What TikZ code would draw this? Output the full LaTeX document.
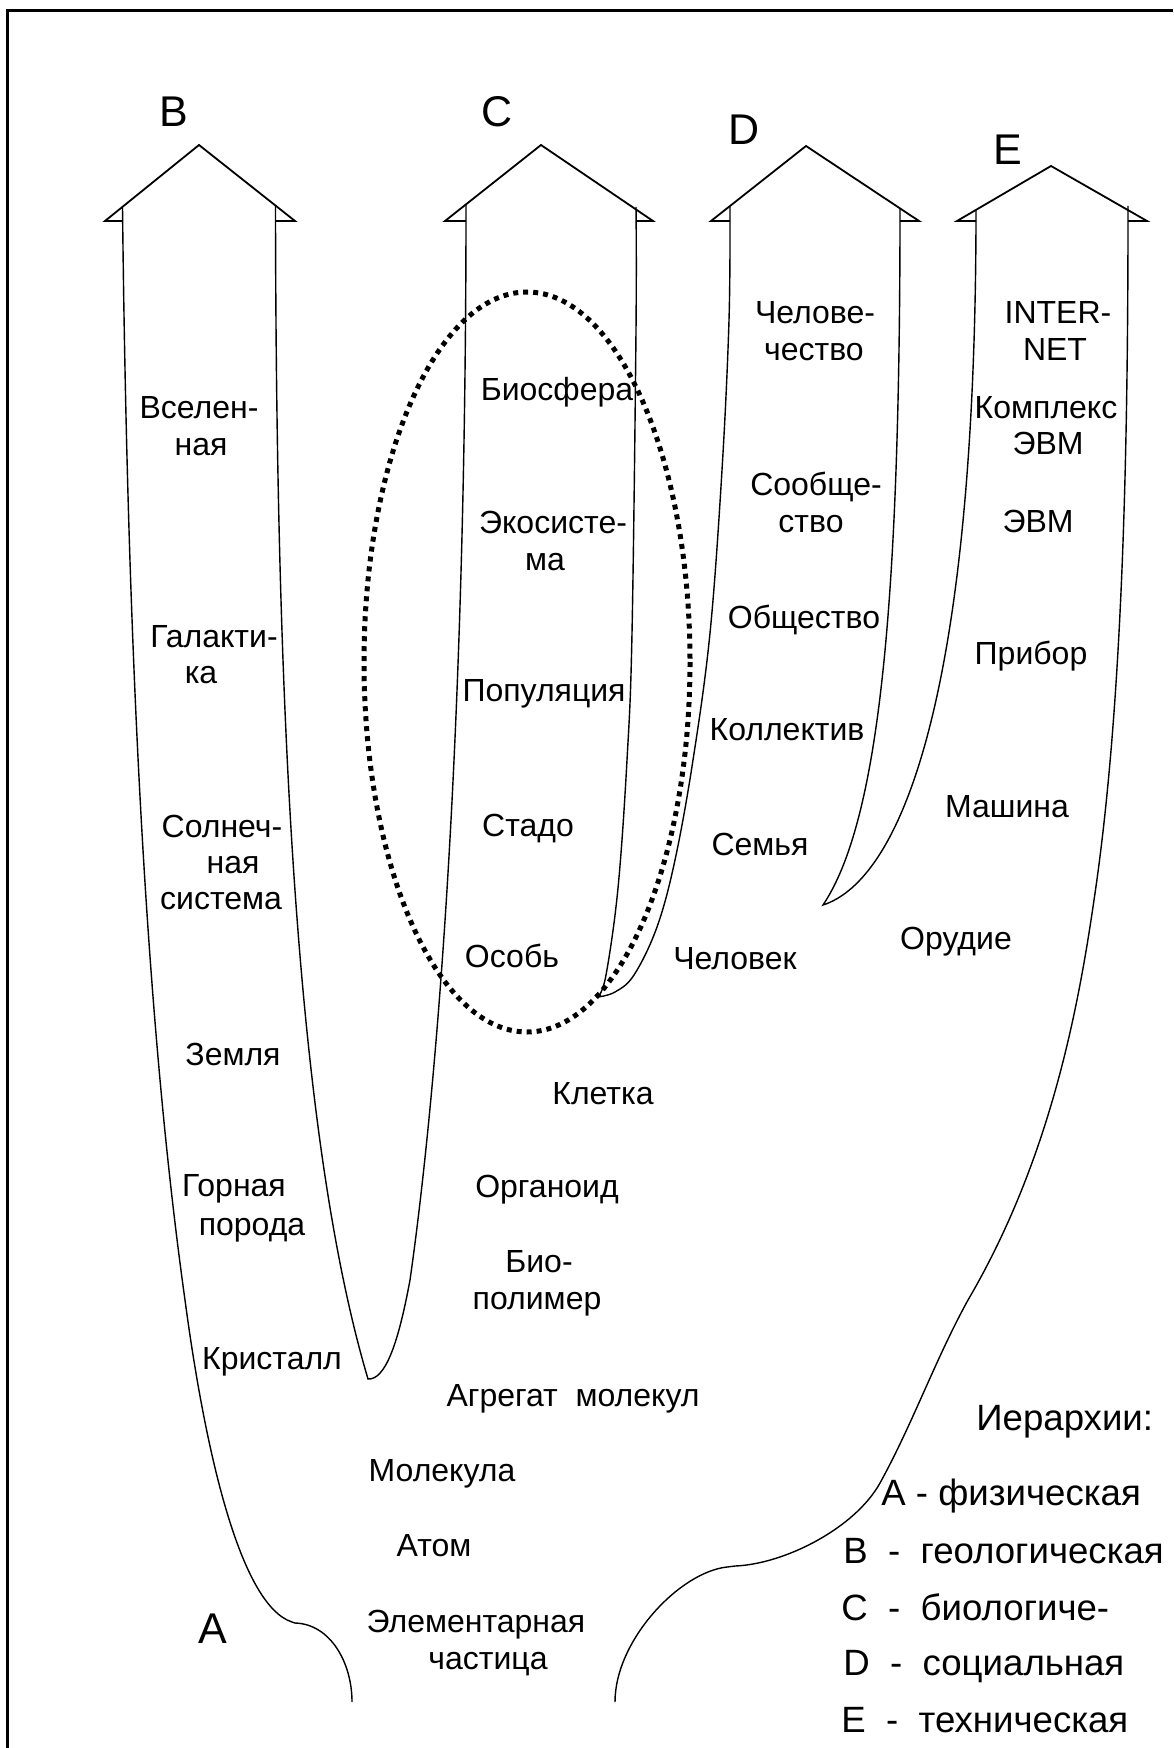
\documentclass[tikz,border=0pt]{standalone}
\usepackage{fontspec}
\setmainfont{Liberation Sans}
\begin{document}
\begin{tikzpicture}[x=0.5pt,y=-0.5pt,
  frame/.style={line width=1.5pt},
  head/.style={line width=0.9pt,line join=miter},
  shaft/.style={line width=0.7pt},
  ring/.style={line width=2.5pt,dash pattern=on 2.5pt off 2.5pt},
  lvl/.style={font=\fontsize{16}{19}\selectfont,inner sep=0pt,anchor=base},
  tag/.style={font=\fontsize{21.5}{25}\selectfont,inner sep=0pt,anchor=base},
  key/.style={font=\fontsize{18.3}{22}\selectfont,inner sep=0pt,anchor=base west}]
\useasboundingbox (0,0) rectangle (1173,1748);

% outer frame (left and top edges)
\draw[frame] (7.7,1748) -- (7.7,11) -- (1173,11);

% arrow heads of the four hierarchies
\draw[head] (122.5,221) -- (105,221) -- (199,145) -- (295,221) -- (275.5,221);
\draw[head] (466,221) -- (445,221) -- (541,145) -- (653,221) -- (636,221);
\draw[head] (730,221) -- (711,221) -- (806,146) -- (919,221) -- (900,221);
\draw[head] (976,221) -- (957,221) -- (1051,166) -- (1147,221) -- (1128,221);

% shaft tops
\coordinate (Btl) at (122.5,206.9);
\coordinate (Btr) at (275.5,205.6);
\coordinate (Ctl) at (466,204.4);
\coordinate (Ctr) at (636,207);
\coordinate (Dtl) at (730,206);
\coordinate (Dtr) at (900,208.4);
\coordinate (Etl) at (976,209.9);
\coordinate (Etr) at (1128,206);
% junction points
\coordinate (BC) at (368,1379);
\coordinate (CD) at (598,997);
\coordinate (DE) at (823,905);
\coordinate (Aend) at (352,1702);
\coordinate (Eend) at (615,1702);

% left border of A (from B's left shaft)
\draw[shaft] (Btl) .. controls (128,700) and (150,1050) .. (185,1300)
  .. controls (205,1450) and (240,1605) .. (292,1622)
  -- (295,1623) .. controls (330,1624) and (352,1662) .. (Aend);

% B right shaft turning into C left shaft
\draw[shaft] (Btr) .. controls (276,750) and (300,1150) .. (BC)
  .. controls (385,1380) and (398,1345) .. (410,1280)
  .. controls (430,1140) and (466,800) .. (Ctl);

% C right shaft and D left shaft
\draw[shaft] plot[smooth,tension=0.6] coordinates {(Ctr) (636,330) (632,633) (627,760) (618,888) (606,975) (CD)}
  -- plot[smooth,tension=0.6] coordinates {(CD) (615,992) (634,975) (657,927) (675,860) (693,760) (710,633) (722,470) (729,320) (Dtl)};

% D right shaft and E left shaft
\draw[shaft] (Dtr) .. controls (900,600) and (880,820) .. (DE)
  .. controls (900,880) and (976,700) .. (Etl);

% right border of A (from E's right shaft)
\draw[shaft] (Etr) .. controls (1128,430) and (1124,700) .. (1094,900)
  .. controls (1078,1010) and (1050,1160) .. (968,1300)
  .. controls (935,1360) and (913,1423) .. (880,1483)
  .. controls (855,1528) and (785,1564) .. (735,1566)
  -- (727,1567) .. controls (680,1572) and (615,1640) .. (Eend);

% dotted oval round the biological levels
\draw[ring] (527,662) ellipse [x radius=163,y radius=370];

% hierarchy letters
\node[tag] (tB) at (174,127) {B};
\node[tag] (tC) at (497,127) {C};
\node[tag] (tD) at (744.5,145) {D};
\node[tag] (tE) at (1008,165) {E};
\node[tag] (tA) at (213,1643) {A};

% B: geological levels
\node[lvl] (b1a) at (199,419) {Вселен-};
\node[lvl] (b1b) at (201,456) {ная};
\node[lvl] (b2a) at (214,647) {Галакти-};
\node[lvl] (b2b) at (201,683) {ка};
\node[lvl] (b3a) at (222,837) {Солнеч-};
\node[lvl] (b3b) at (233,873) {ная};
\node[lvl] (b3c) at (221,909) {система};
\node[lvl] (b4) at (233,1065) {Земля};
\node[lvl] (b5a) at (234,1196) {Горная};
\node[lvl] (b5b) at (252,1235) {порода};
\node[lvl] (b6) at (272,1369) {Кристалл};

% C: biological levels
\node[lvl] (c1) at (557,401) {Биосфера};
\node[lvl] (c2a) at (553,534) {Экосисте-};
\node[lvl] (c2b) at (545,570) {ма};
\node[lvl] (c3) at (544,701) {Популяция};
\node[lvl] (c4) at (528,836) {Стадо};
\node[lvl] (c5) at (512,967) {Особь};
\node[lvl] (c6) at (603,1104) {Клетка};
\node[lvl] (c7) at (547,1197) {Органоид};
\node[lvl] (c8a) at (539,1272) {Био-};
\node[lvl] (c8b) at (537,1309) {полимер};

% A: physical levels
\node[lvl] (a1) at (573,1406) {Агрегат\ \ молекул};
\node[lvl] (a2) at (442,1481) {Молекула};
\node[lvl] (a3) at (434,1556) {Атом};
\node[lvl] (a4a) at (476,1632) {Элементарная};
\node[lvl] (a4b) at (488,1669) {частица};

% D: social levels
\node[lvl] (d1a) at (815,324) {Челове-};
\node[lvl] (d1b) at (814,361) {чество};
\node[lvl] (d2a) at (816,495) {Сообще-};
\node[lvl] (d2b) at (811,532) {ство};
\node[lvl] (d3) at (804,628) {Общество};
\node[lvl] (d4) at (787,740) {Коллектив};
\node[lvl] (d5) at (760,855) {Семья};
\node[lvl] (d6) at (735,969) {Человек};

% E: technical levels
\node[lvl] (e1a) at (1058,324) {INTER-};
\node[lvl] (e1b) at (1055,361) {NET};
\node[lvl] (e2a) at (1046,419) {Комплекс};
\node[lvl] (e2b) at (1048,455) {ЭВМ};
\node[lvl] (e3) at (1038,532) {ЭВМ};
\node[lvl] (e4) at (1031,664) {Прибор};
\node[lvl] (e5) at (1007,817) {Машина};
\node[lvl] (e6) at (956,949) {Орудие};

% legend
\node[key] (k0) at (976,1430) {Иерархии:};
\node[key] (k1) at (881,1505) {A - физическая};
\node[key] (k2) at (843,1563) {B\ \ -\ \ геологическая};
\node[key] (k3) at (841,1620) {C\ \ -\ \ биологиче-};
\node[key] (k4) at (843,1675) {D\ \ -\ \ социальная};
\node[key] (k5) at (841,1732) {E\ \ -\ \ техническая};
\end{tikzpicture}
\end{document}
